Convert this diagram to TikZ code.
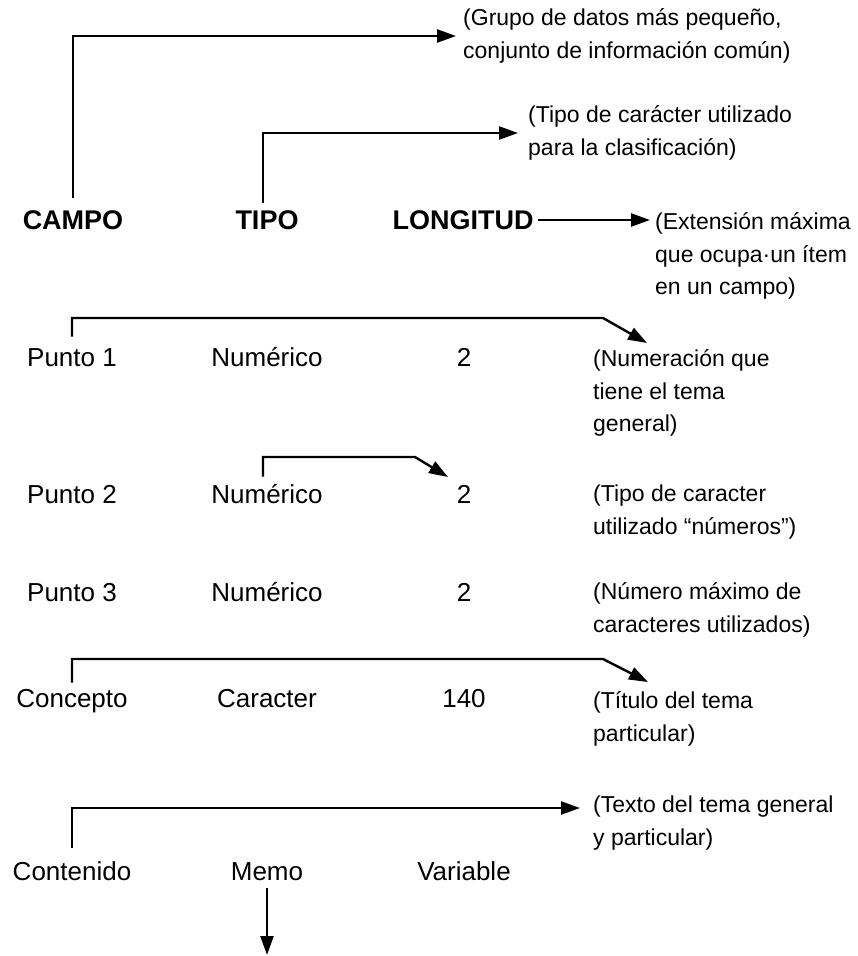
\documentclass[tikz,border=0pt]{standalone}
\usepackage{fontspec}
\setmainfont{Liberation Sans}
\usetikzlibrary{arrows.meta,calc}
\begin{document}
\begin{tikzpicture}[x=1pt,y=-1pt,
  hd/.style={font=\bfseries\fontsize{27}{32}\selectfont, inner sep=0pt, text height=19.4pt, text depth=0pt},
  bd/.style={font=\fontsize{26}{32}\selectfont, inner sep=0pt, text height=18.6pt, text depth=0pt},
  nt/.style={font=\fontsize{23}{32.5}\selectfont, inner sep=0pt, align=left, anchor=west},
  ln/.style={line width=2.4pt},
  arr/.style={ln, -{Triangle[length=19pt,width=13pt]}}]

\useasboundingbox (0,0) rectangle (857,956);

% header row
\node[hd] (campo) at (73,220) {CAMPO};
\node[hd] (tipo) at (267,220) {TIPO};
\node[hd] (long) at (463,220) {LONGITUD};

% data rows
\node[bd] (p1) at (72,357) {Punto 1};
\node[bd] (n1) at (267,357) {Numérico};
\node[bd] (d1) at (464,357) {2};

\node[bd] (p2) at (72,494) {Punto 2};
\node[bd] (n2) at (267,494) {Numérico};
\node[bd] (d2) at (464,494) {2};

\node[bd] (p3) at (72,592) {Punto 3};
\node[bd] (n3) at (267,592) {Numérico};
\node[bd] (d3) at (464,592) {2};

\node[bd] (con) at (72,698) {Concepto};
\node[bd] (car) at (267,698) {Caracter};
\node[bd] (c140) at (464,698) {140};

\node[bd] (cont) at (72,871) {Contenido};
\node[bd] (memo) at (267,871) {Memo};
\node[bd] (var) at (464,871) {Variable};

% annotations
\node[nt] (g) at (463,36) {(Grupo de datos más pequeño,\\conjunto de información común)};
\node[nt] (t) at (528,133) {(Tipo de carácter utilizado\\para la clasificación)};
\node[nt] (e) at (655,256) {(Extensión máxima\\que ocupa·un ítem\\en un campo)};
\node[nt] (a1) at (593,393) {(Numeración que\\tiene el tema\\general)};
\node[nt] (a2) at (593,512) {(Tipo de caracter\\utilizado “números”)};
\node[nt] (a3) at (593,610) {(Número máximo de\\caracteres utilizados)};
\node[nt] (a4) at (593,719) {(Título del tema\\particular)};
\node[nt] (a5) at (593,823) {(Texto del tema general\\y particular)};

% free ends
\coordinate (p1tip) at (647,343);
\coordinate (d2tip) at (448,477);
\coordinate (contip) at (648,682);
\coordinate (conttip) at (580,808);
\coordinate (memotip) at (267,955);

% connectors
\draw[arr] ($(campo.north)+(0,-12)$) |- ($(g.west)+(-7,0)$);
\draw[arr] ($(tipo.north)+(-4,-7)$) |- ($(t.west)+(-10,0)$);
\draw[arr] ($(long.east)+(4,0)$) -- ($(e.west |- long.east)+(-5,0)$);
\draw[arr] ($(p1.north)+(0,-11)$) |- ($(p1tip)+(-44,-25)$) -- (p1tip);
\draw[arr] ($(n2.north)+(-4,-8)$) |- ($(d2tip)+(-33,-20)$) -- (d2tip);
\draw[arr] ($(con.north)+(0,-6)$) |- ($(contip)+(-45,-23)$) -- (contip);
\draw[arr] ($(cont.north)+(0,-14)$) |- (conttip);
\draw[arr] ($(memo.south)+(0,7)$) -- (memotip);
\end{tikzpicture}
\end{document}
